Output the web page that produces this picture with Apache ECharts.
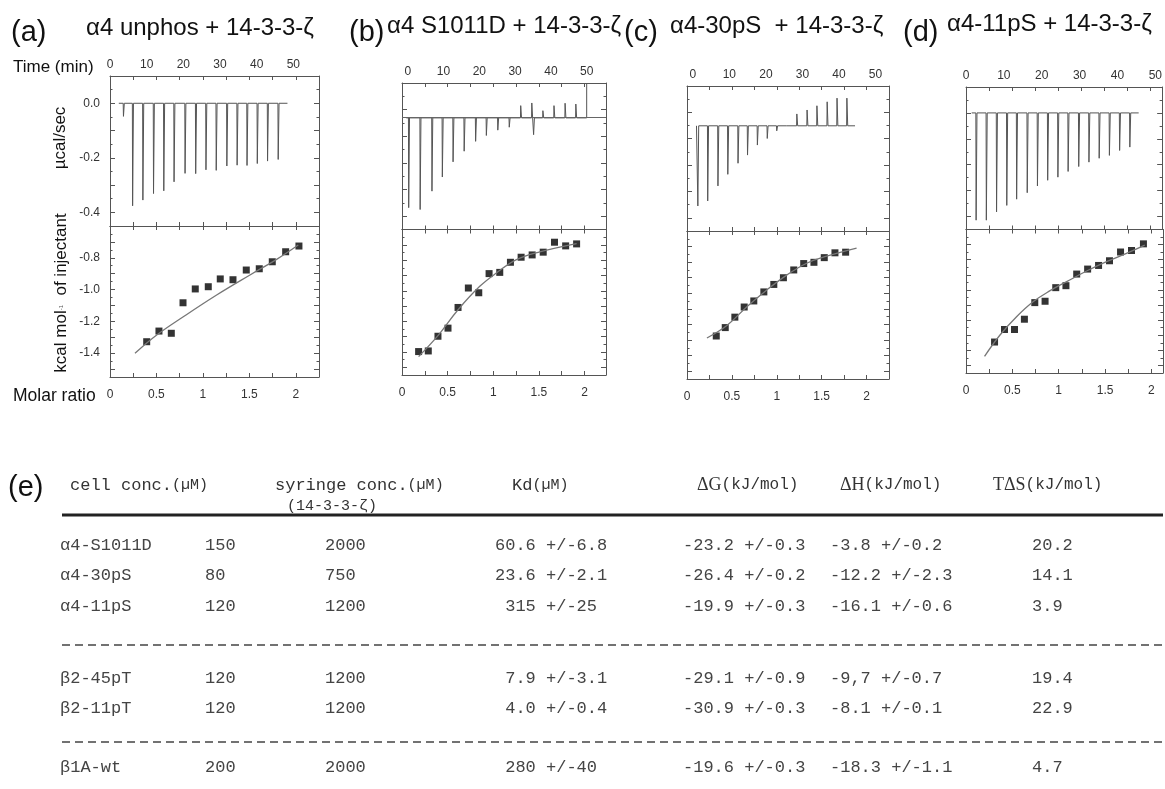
<!DOCTYPE html>
<html><head><meta charset="utf-8">
<script src="https://cdn.jsdelivr.net/npm/echarts@6/dist/echarts.min.js"></script>
<style>html,body{margin:0;padding:0;background:#fff}#c{width:1165px;height:789px}</style>
</head><body><div id="c"></div>
<script>
// ---------------- data ----------------
const timeLabels = [0, 10, 20, 30, 40, 50];
const ratioLabels = [0, 0.5, 1, 1.5, 2];
const powerLabels = [0, -0.2, -0.4];
const powerTicks = [0.1, 0, -0.1, -0.2, -0.3, -0.4];
const heatLabels = [-0.8, -1.0, -1.2, -1.4];
const heatTicks = [-0.6, -0.7, -0.8, -0.9, -1.0, -1.1, -1.2, -1.3, -1.4, -1.5];

const panelLetters = ['(a)', '(b)', '(c)', '(d)'];
const panelTitles = ['α4 unphos + 14-3-3-ζ', 'α4 S1011D + 14-3-3-ζ', 'α4-30pS  + 14-3-3-ζ', 'α4-11pS + 14-3-3-ζ'];

// (a) alpha4 unphos
const aInjTime = [3.6, 6.1, 8.9, 11.8, 14.6, 17.4, 20.4, 23.3, 26.1, 28.9, 31.8, 34.6, 37.3, 40.1, 42.9, 45.8];
const aInjPeak = [-0.048, -0.376, -0.355, -0.331, -0.321, -0.288, -0.257, -0.258, -0.244, -0.246, -0.230, -0.227, -0.228, -0.221, -0.212, -0.206];
const aBase = 0;
const aTraceSpan = [2.4, 48.4];
const aRatio = [0.395, 0.527, 0.660, 0.786, 0.918, 1.058, 1.187, 1.324, 1.467, 1.607, 1.747, 1.891, 2.034];
const aHeat = [-1.328, -1.261, -1.275, -1.083, -0.996, -0.982, -0.933, -0.938, -0.877, -0.869, -0.825, -0.762, -0.726];
const aFitRatio = [0.269, 0.503, 0.789, 1.148, 1.507, 1.794, 2.027];
const aFitHeat = [-1.401, -1.286, -1.171, -1.034, -0.908, -0.810, -0.720];

// (b) alpha4 S1011D
const bInjTime = [0.2, 3.4, 6.7, 9.6, 12.6, 15.7, 18.9, 21.9, 25.1, 28.3, 31.5, 34.6, 35.1, 37.7, 40.8, 43.9, 46.9];
const bInjPeak = [-0.368, -0.375, -0.306, -0.253, -0.196, -0.156, -0.119, -0.097, -0.077, -0.066, 0.015, 0.025, -0.094, -0.004, 0.015, 0.024, 0.021];
const bBase = -0.031;
const bTraceSpan = [-0.4, 50];
const bTraceTail = [[50, 0.1]];
const bRatio = [0.182, 0.288, 0.394, 0.504, 0.614, 0.727, 0.841, 0.954, 1.071, 1.188, 1.305, 1.426, 1.547, 1.671, 1.793, 1.913];
const bHeat = [-1.397, -1.393, -1.297, -1.244, -1.109, -0.982, -1.013, -0.888, -0.880, -0.814, -0.781, -0.766, -0.748, -0.683, -0.707, -0.694];
const bFitRatio = [0.182, 0.401, 0.614, 0.852, 1.034, 1.254, 1.51, 1.913];
const bFitHeat = [-1.430, -1.288, -1.124, -0.971, -0.884, -0.797, -0.746, -0.692];

// (c) alpha4-30pS
const cInjTime = [1.3, 4.0, 6.8, 9.5, 12.3, 14.9, 17.6, 20.3, 22.9, 25.7, 28.4, 31.2, 33.9, 36.7, 39.4, 42.1];
const cInjPeak = [-0.355, -0.336, -0.279, -0.235, -0.193, -0.162, -0.124, -0.099, -0.070, -0.057, -0.006, 0.009, 0.025, 0.040, 0.054, 0.054];
const cBase = -0.051;
const cTraceSpan = [1.0, 44.4];
const cRatio = [0.326, 0.426, 0.533, 0.637, 0.744, 0.856, 0.967, 1.074, 1.189, 1.300, 1.414, 1.529, 1.648, 1.767];
const cHeat = [-1.274, -1.220, -1.153, -1.088, -1.049, -0.991, -0.943, -0.900, -0.850, -0.809, -0.801, -0.771, -0.740, -0.736];
const cFitRatio = [0.222, 0.444, 0.667, 0.889, 1.111, 1.333, 1.556, 1.889];
const cFitHeat = [-1.287, -1.207, -1.086, -0.978, -0.883, -0.807, -0.762, -0.710];

// (d) alpha4-11pS
const dInjTime = [2.6, 5.3, 8.0, 10.7, 13.3, 16.1, 18.8, 21.5, 24.2, 26.9, 29.7, 32.4, 35.1, 37.8, 40.5, 43.2];
const dInjPeak = [-0.414, -0.414, -0.382, -0.357, -0.333, -0.308, -0.282, -0.260, -0.248, -0.226, -0.207, -0.190, -0.175, -0.164, -0.145, -0.132];
const dBase = 0;
const dTraceSpan = [1.5, 45.6];
const dRatio = [0.308, 0.415, 0.523, 0.630, 0.742, 0.853, 0.968, 1.078, 1.194, 1.312, 1.430, 1.548, 1.667, 1.785, 1.914];
const dHeat = [-1.345, -1.262, -1.262, -1.194, -1.084, -1.075, -0.985, -0.972, -0.895, -0.862, -0.838, -0.807, -0.749, -0.739, -0.695];
const dFitRatio = [0.2, 0.369, 0.548, 0.727, 0.907, 1.086, 1.301, 1.516, 1.731, 1.928];
const dFitHeat = [-1.440, -1.297, -1.176, -1.077, -1.005, -0.945, -0.875, -0.813, -0.758, -0.703];

// (e) table
const tableNames = ['α4-S1011D', 'α4-30pS', 'α4-11pS', 'β2-45pT', 'β2-11pT', 'β1A-wt'];
const cellConc = ['150', '80', '120', '120', '120', '200'];
const syringeConc = ['2000', '750', '1200', '1200', '1200', '2000'];
const kdValues = ['60.6 +/-6.8', '23.6 +/-2.1', ' 315 +/-25', ' 7.9 +/-3.1', ' 4.0 +/-0.4', ' 280 +/-40'];
const dGValues = ['-23.2 +/-0.3', '-26.4 +/-0.2', '-19.9 +/-0.3', '-29.1 +/-0.9', '-30.9 +/-0.3', '-19.6 +/-0.3'];
const dHValues = ['-3.8 +/-0.2', '-12.2 +/-2.3', '-16.1 +/-0.6', '-9,7 +/-0.7', '-8.1 +/-0.1', '-18.3 +/-1.1'];
const TdSValues = ['20.2', '14.1', '3.9', '19.4', '22.9', '4.7'];

// ---------------- layout ----------------
const SANS = '"Liberation Sans", Arial, sans-serif';
const MONO = '"Liberation Mono", "Courier New", monospace';
const SERIF = '"Liberation Serif", "Times New Roman", serif';
const AX = '#555';

const frames = [
  {l: 110, r: 319, t: 76, m: 226, b: 377, tMin: 0, tMax: 57, xMax: 2.25, yLab: true},
  {l: 402, r: 606, t: 83, m: 229.5, b: 375, tMin: -1.6, tMax: 55.4, xMax: 2.235, yLab: false},
  {l: 687, r: 889, t: 86, m: 231, b: 379, tMin: -1.6, tMax: 53.7, xMax: 2.25, yLab: false},
  {l: 966, r: 1163, t: 87, m: 229.5, b: 373, tMin: 0, tMax: 51.8, xMax: 2.125, yLab: false}
];
const panels = [
  {inj: aInjTime, peak: aInjPeak, base: aBase, span: aTraceSpan, tail: [], ratio: aRatio, heat: aHeat, fitR: aFitRatio, fitH: aFitHeat, ref: false},
  {inj: bInjTime, peak: bInjPeak, base: bBase, span: bTraceSpan, tail: bTraceTail, ratio: bRatio, heat: bHeat, fitR: bFitRatio, fitH: bFitHeat, ref: true},
  {inj: cInjTime, peak: cInjPeak, base: cBase, span: cTraceSpan, tail: [], ratio: cRatio, heat: cHeat, fitR: cFitRatio, fitH: cFitHeat, ref: false},
  {inj: dInjTime, peak: dInjPeak, base: dBase, span: dTraceSpan, tail: [], ratio: dRatio, heat: dHeat, fitR: dFitRatio, fitH: dFitHeat, ref: false}
];
const letterPos = [[11, 33], [349, 33], [624, 33], [903, 33]];
const titlePos = [[86, 28], [387, 26], [670, 26], [947, 24]];

const grid = [], xAxis = [], yAxis = [], series = [];
const hidden = () => ({
  type: 'value', splitLine: {show: false},
  axisLine: {show: false, onZero: false},
  axisTick: {show: false}, axisLabel: {show: false}
});
function addX(o) { xAxis.push(Object.assign(hidden(), o)); return xAxis.length - 1; }
function addY(o) { yAxis.push(Object.assign(hidden(), o)); return yAxis.length - 1; }
const boxLine = {show: true, onZero: false, lineStyle: {color: AX, width: 1}};
const lblStyle = {fontFamily: SANS, fontSize: 12, color: '#333'};

function buildTrace(times, peaks, base, span, tail) {
  const pts = [[span[0], base]];
  times.forEach((t, i) => { pts.push([t, base], [t + 0.07, peaks[i]], [t + 0.3, base]); });
  pts.push([span[1], base]);
  tail.forEach(p => pts.push(p));
  return pts;
}
const zip = (a, b) => a.map((v, i) => [v, b[i]]);

function boxAxesY(gi, min, max, majors, labels, showLab) {
  const fmt = v => v.toFixed(1);
  const main = addY({gridIndex: gi, position: 'left', min, max,
    axisLine: boxLine,
    axisTick: {show: true, inside: true, length: 5, customValues: majors, lineStyle: {color: AX}},
    axisLabel: Object.assign({show: showLab, customValues: labels, formatter: fmt, margin: 10}, lblStyle)});
  addY({gridIndex: gi, position: 'left', min, max, interval: 0.05,
    axisTick: {show: true, inside: true, length: 2.5, lineStyle: {color: AX}}});
  addY({gridIndex: gi, position: 'right', min, max,
    axisLine: boxLine,
    axisTick: {show: true, inside: true, length: 5, customValues: majors, lineStyle: {color: AX}}});
  addY({gridIndex: gi, position: 'right', min, max, interval: 0.05,
    axisTick: {show: true, inside: true, length: 2.5, lineStyle: {color: AX}}});
  return main;
}

frames.forEach((f, i) => {
  const p = panels[i];
  // ---- top: thermogram ----
  const gT = grid.length;
  grid.push({left: f.l, top: f.t, width: f.r - f.l, height: f.m - f.t});
  const tX = addX({gridIndex: gT, position: 'top', min: f.tMin, max: f.tMax,
    axisLabel: Object.assign({show: true, customValues: timeLabels, margin: 5}, lblStyle)});
  addX({gridIndex: gT, position: 'top', min: 0, max: f.xMax, interval: 0.25, axisLine: boxLine,
    axisTick: {show: true, inside: true, length: 4, lineStyle: {color: AX}}});
  addX({gridIndex: gT, position: 'bottom', min: 0, max: f.xMax, interval: 0.25, axisLine: boxLine,
    axisTick: {show: true, inside: true, length: 4, lineStyle: {color: AX}}});
  const tY = boxAxesY(gT, -0.45, 0.1, powerTicks, powerLabels, f.yLab);
  const s = {type: 'line', xAxisIndex: tX, yAxisIndex: tY, symbol: 'none', animation: false,
    data: buildTrace(p.inj, p.peak, p.base, p.span, p.tail),
    lineStyle: {color: '#555', width: 1}};
  if (p.ref) {
    s.markLine = {silent: true, symbol: 'none', label: {show: false}, animation: false,
      lineStyle: {color: '#666', width: 1, type: 'solid'}, data: [{yAxis: p.base}]};
  }
  series.push(s);

  // ---- bottom: binding isotherm ----
  const gB = grid.length;
  grid.push({left: f.l, top: f.m, width: f.r - f.l, height: f.b - f.m});
  const bX = addX({gridIndex: gB, position: 'bottom', min: 0, max: f.xMax, interval: 0.25, axisLine: boxLine,
    axisTick: {show: true, inside: true, length: 4, lineStyle: {color: AX}},
    axisLabel: Object.assign({show: true, customValues: ratioLabels, margin: 12, formatter: v => String(v)}, lblStyle)});
  addX({gridIndex: gB, position: 'top', min: 0, max: f.xMax, interval: 0.25, axisLine: boxLine,
    axisTick: {show: true, inside: true, length: 4, lineStyle: {color: AX}}});
  const bY = boxAxesY(gB, -1.55, -0.6, heatTicks, heatLabels, f.yLab);
  series.push({type: 'line', xAxisIndex: bX, yAxisIndex: bY, symbol: 'none', smooth: 0.4, animation: false,
    data: zip(p.fitR, p.fitH), lineStyle: {color: '#777', width: 1.3}});
  series.push({type: 'scatter', xAxisIndex: bX, yAxisIndex: bY, symbol: 'rect', symbolSize: 7, animation: false,
    data: zip(p.ratio, p.heat), itemStyle: {color: '#000'}});
});

// ---------------- text / table graphics ----------------
const graphic = [];
function txt(x, y, text, font, opts) {
  graphic.push(Object.assign({type: 'text', x, y, silent: true,
    style: Object.assign({text, font, fill: '#111', align: 'left', verticalAlign: 'middle'}, (opts && opts.style) || {})},
    (opts && opts.el) || {}));
}
panelLetters.forEach((s, i) => txt(letterPos[i][0], letterPos[i][1], s, '29px ' + SANS));
panelTitles.forEach((s, i) => txt(titlePos[i][0], titlePos[i][1], s, '24px ' + SANS));
txt(13, 67, 'Time (min)', '17px ' + SANS);
txt(13, 396, 'Molar ratio', '17.5px ' + SANS);
txt(60, 138, 'µcal/sec', '17px ' + SANS, {style: {align: 'center'}, el: {rotation: Math.PI / 2}});
graphic.push({type: 'text', x: 61, y: 293, rotation: Math.PI / 2, silent: true,
  style: {text: '{n|kcal mol}{s|-1}{n|  of injectant}', align: 'center', verticalAlign: 'middle', fill: '#111',
    rich: {n: {fontFamily: SANS, fontSize: 17, fill: '#111'}, s: {fontFamily: SANS, fontSize: 6, fill: '#555'}}}});

// table header
txt(8, 488, '(e)', '29px ' + SANS);
function rich(x, y, parts) {
  const r = {}; let text = '';
  parts.forEach((p, k) => { r['p' + k] = {fontFamily: p[1], fontSize: p[2], fill: '#333'}; text += '{p' + k + '|' + p[0] + '}'; });
  graphic.push({type: 'text', x, y, silent: true, style: {text, rich: r, align: 'left', verticalAlign: 'middle'}});
}
rich(70, 485, [['cell conc.', MONO, 17], ['(µM)', MONO, 15]]);
rich(275, 485, [['syringe conc.', MONO, 17], ['(µM)', MONO, 15]]);
rich(287, 506, [['(14-3-3-ζ)', MONO, 15]]);
rich(512, 485, [['Kd', MONO, 17], ['(µM)', MONO, 15]]);
rich(697, 485, [['ΔG', SERIF, 18], ['(kJ/mol)', MONO, 16]]);
rich(840, 485, [['ΔH', SERIF, 18], ['(kJ/mol)', MONO, 16]]);
rich(993, 485, [['TΔS', SERIF, 18], ['(kJ/mol)', MONO, 16]]);

graphic.push({type: 'line', silent: true, shape: {x1: 62, y1: 515, x2: 1163, y2: 515}, style: {stroke: '#222', lineWidth: 3}});
[645, 742].forEach(y => graphic.push({type: 'line', silent: true, shape: {x1: 62, y1: y, x2: 1165, y2: y},
  style: {stroke: '#444', lineWidth: 1.5, lineDash: [8, 5]}}));

const tblCols = [60, 205, 325, 495, 683, 830, 1032];
const tblRows = [545, 575, 606, 678, 708, 767];
const tblData = [tableNames, cellConc, syringeConc, kdValues, dGValues, dHValues, TdSValues];
tblData.forEach((col, c) => col.forEach((v, r) => {
  txt(tblCols[c], tblRows[r], v, '17px ' + MONO, {style: {fill: '#444'}});
}));

const chart = echarts.init(document.getElementById('c'), null, {renderer: 'canvas'});
chart.setOption({animation: false, backgroundColor: '#fff', grid, xAxis, yAxis, series, graphic});
</script></body></html>
